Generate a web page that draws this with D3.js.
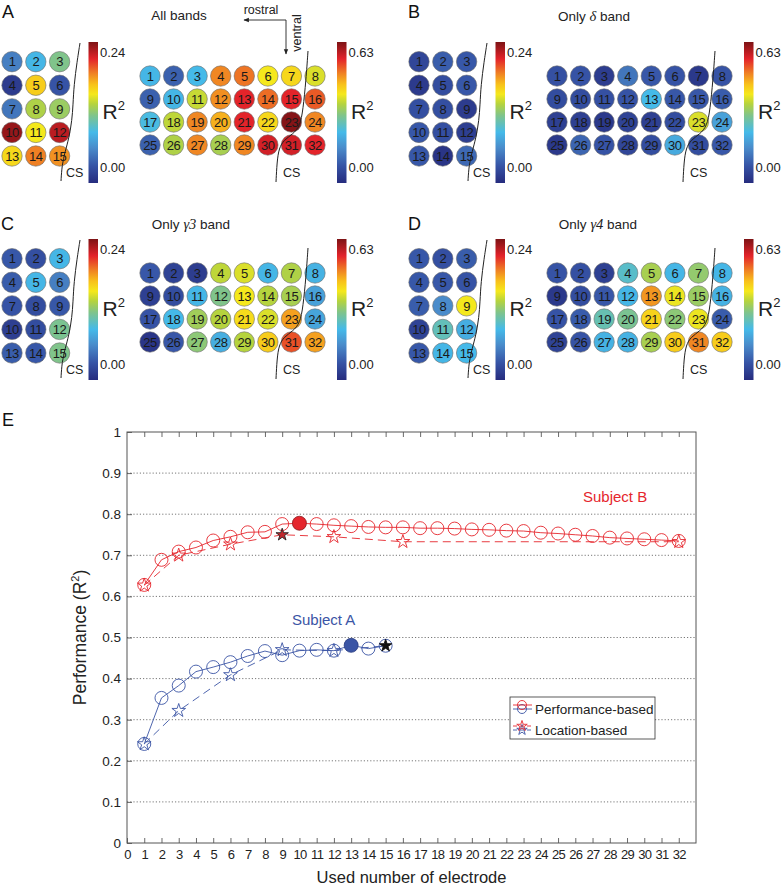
<!DOCTYPE html>
<html><head><meta charset="utf-8">
<script src="https://cdn.jsdelivr.net/npm/d3@7"></script>
<style>body{margin:0;background:#fff} svg{font-family:"Liberation Sans",Arial,sans-serif}</style>
</head><body><svg id="c" width="782" height="896"></svg>
<script>
// ---------------- DATA ----------------
const panelLetters = ["A","B","C","D"];
const titlePrefix = ["All bands","Only ","Only ","Only "];
const titleItalic = ["","δ","γ3","γ4"];
const titleSuffix = [""," band"," band"," band"];
const leftMax = 0.24, rightMax = 0.63;
const leftTickLabels = ["0.24","0.00"];
const rightTickLabels = ["0.63","0.00"];

// Subject A grid (15 electrodes) R^2 per panel
const leftAll   = [0.053,0.084,0.115,0.012,0.163,0.029,0.048,0.132,0.125,0.233,0.151,0.223,0.158,0.187,0.182];
const leftDelta = [0.019,0.034,0.031,0.010,0.024,0.031,0.026,0.026,0.012,0.031,0.026,0.014,0.031,0.007,0.041];
const leftG3    = [0.031,0.026,0.084,0.034,0.084,0.053,0.029,0.024,0.031,0.014,0.024,0.113,0.034,0.031,0.115];
const leftG4    = [0.031,0.026,0.034,0.031,0.031,0.029,0.034,0.060,0.151,0.017,0.101,0.079,0.031,0.084,0.086];
// Subject B grid (32 electrodes)
const rightAll   = [0.221,0.095,0.227,0.485,0.498,0.397,0.416,0.378, 0.095,0.221,0.365,0.479,0.554,0.504,0.554,0.517,
                    0.233,0.359,0.485,0.454,0.554,0.416,0.624,0.485, 0.095,0.347,0.485,0.340,0.485,0.567,0.567,0.554];
const rightDelta = [0.069,0.076,0.032,0.126,0.082,0.076,0.025,0.076, 0.063,0.063,0.069,0.076,0.227,0.082,0.082,0.088,
                    0.038,0.038,0.025,0.044,0.038,0.063,0.378,0.189, 0.025,0.101,0.076,0.050,0.063,0.202,0.063,0.082];
const rightG3    = [0.082,0.044,0.032,0.359,0.378,0.221,0.347,0.214, 0.038,0.063,0.221,0.302,0.397,0.353,0.340,0.189,
                    0.076,0.227,0.334,0.353,0.410,0.378,0.466,0.195, 0.019,0.082,0.315,0.208,0.353,0.428,0.523,0.466];
const rightG4    = [0.076,0.069,0.038,0.252,0.340,0.221,0.321,0.221, 0.025,0.063,0.082,0.221,0.473,0.391,0.328,0.214,
                    0.076,0.088,0.271,0.296,0.422,0.315,0.391,0.088, 0.044,0.076,0.214,0.214,0.340,0.428,0.485,0.428];

// Panel E
const xTickValues = d3.range(0,33);
const yTickValues = [0,0.1,0.2,0.3,0.4,0.5,0.6,0.7,0.8,0.9,1];
const bPerfX = d3.range(1,33);
const bPerfY = [0.628,0.689,0.709,0.719,0.736,0.745,0.756,0.757,0.776,0.778,0.776,0.773,0.771,0.769,0.768,0.768,
                0.766,0.766,0.765,0.763,0.762,0.760,0.759,0.755,0.753,0.750,0.747,0.743,0.741,0.739,0.737,0.735];
const bLocX = [1,3,6,9,12,16,32];
const bLocY = [0.627,0.700,0.727,0.750,0.745,0.733,0.733];
const aPerfX = d3.range(1,16);
const aPerfY = [0.241,0.353,0.383,0.417,0.428,0.440,0.455,0.467,0.457,0.468,0.470,0.468,0.481,0.473,0.480];
const aLocX = [1,3,6,9,12,15];
const aLocY = [0.241,0.322,0.409,0.470,0.468,0.480];
const bPerfBest = 10, bLocBest = 9, aPerfBest = 13, aLocBest = 15;
const legendLabels = ["Performance-based","Location-based"];
const subjectLabels = ["Subject A","Subject B"];

// ---------------- DRAW ----------------
const svg = d3.select("#c");
const RED = "#e5262d", BLUE = "#3b55a5";
const jetStops = ["#262c7e","#3653a5","#4a8ccb","#45bae9","#80c48a","#b5d33e","#f5e81c","#f8c11b","#ef7f24","#e3232a","#7d1315"];
const jetPos = [0,0.12,0.25,0.36,0.48,0.56,0.63,0.70,0.78,0.88,1];
const colorFor = max => d3.scaleLinear().domain(jetPos.map(p=>p*max)).range(jetStops).clamp(true);

const defs = svg.append("defs");
const grad = defs.append("linearGradient").attr("id","jet").attr("x1",0).attr("y1",1).attr("x2",0).attr("y2",0);
jetPos.forEach((p,i)=>grad.append("stop").attr("offset",p).attr("stop-color",jetStops[i]));

const panels = [
  {ox:0, oy:0, left:leftAll, right:rightAll, letter:[2,18], title:[179,20]},
  {ox:407, oy:0, left:leftDelta, right:rightDelta, letter:[408,18], title:[594,21]},
  {ox:0, oy:197, left:leftG3, right:rightG3, letter:[1,230], title:[191,229]},
  {ox:407, oy:197, left:leftG4, right:rightG4, letter:[408,230], title:[598,229]}
];

const leftCS = [[80,43],[77,62],[74,85],[73,105],[72,120],[69,138],[65,152],[62,165],[61,181]];
const rightCS = [[308,51],[306,80],[303,110],[300,126],[293,134],[284,140],[279,148],[277,162],[276,182]];
const csLine = d3.line().curve(d3.curveBasis);

panels.forEach((p,pi)=>{
  svg.append("text").attr("x",p.letter[0]).attr("y",p.letter[1]).attr("font-size",18).attr("fill","#111").text(panelLetters[pi]);
  const t = svg.append("text").attr("x",p.title[0]).attr("y",p.title[1]).attr("text-anchor","middle").attr("font-size",13.5).attr("fill","#222");
  t.append("tspan").text(titlePrefix[pi]);
  if (titleItalic[pi]) {
    t.append("tspan").attr("font-family","'Liberation Serif','Times New Roman',serif").attr("font-style","italic").attr("font-size",14.5).text(titleItalic[pi]);
    t.append("tspan").text(titleSuffix[pi]);
  }
  const g = svg.append("g").attr("transform",`translate(${p.ox},${p.oy})`);
  const lc = colorFor(leftMax), rc = colorFor(rightMax);
  const lx = d3.scaleLinear().domain([0,2]).range([12,59.6]);
  const ly = d3.scaleLinear().domain([0,4]).range([61.7,156]);
  const rx = d3.scaleLinear().domain([0,7]).range([150,315]);
  const ry = d3.scaleLinear().domain([0,3]).range([76,145]);
  const drawGrid = (vals, sx, sy, ncol, col) => {
    const e = g.append("g").selectAll("g").data(vals).join("g")
      .attr("transform",(d,i)=>`translate(${sx(i%ncol)},${sy(Math.floor(i/ncol))})`);
    e.append("circle").attr("r",10.2).attr("fill",d=>col(d)).attr("stroke","#6b6b6b").attr("stroke-width",0.6);
    e.append("text").attr("text-anchor","middle").attr("dy","0.36em").attr("font-size",13).attr("fill","#1a1a1a").attr("letter-spacing",-0.5).text((d,i)=>i+1);
  };
  drawGrid(p.left, lx, ly, 3, lc);
  drawGrid(p.right, rx, ry, 8, rc);
  g.append("path").attr("d",csLine(leftCS)).attr("fill","none").attr("stroke","#222").attr("stroke-width",1);
  g.append("path").attr("d",csLine(rightCS)).attr("fill","none").attr("stroke","#222").attr("stroke-width",1);
  g.append("text").attr("x",66).attr("y",177).attr("font-size",12.5).attr("fill","#222").text("CS");
  g.append("text").attr("x",283).attr("y",177).attr("font-size",12.5).attr("fill","#222").text("CS");
  [[88.5,leftTickLabels],[337,rightTickLabels]].forEach(([cx,labs])=>{
    g.append("rect").attr("x",cx).attr("y",42).attr("width",9.5).attr("height",141).attr("fill","url(#jet)");
    g.append("text").attr("x",cx+11.5).attr("y",57).attr("font-size",13).attr("fill","#222").text(labs[0]);
    g.append("text").attr("x",cx+11.5).attr("y",172).attr("font-size",13).attr("fill","#222").text(labs[1]);
    const r = g.append("text").attr("x",cx+14).attr("y",119).attr("font-size",21).attr("fill","#222");
    r.append("tspan").text("R");
    r.append("tspan").attr("font-size",13).attr("dy",-9).text("2");
  });
});

// rostral / ventral arrows (panel A)
defs.append("marker").attr("id","arr").attr("viewBox","0 0 10 10").attr("refX",9).attr("refY",5)
  .attr("markerWidth",6).attr("markerHeight",6).attr("orient","auto-start-reverse")
  .append("path").attr("d","M0,1 L10,5 L0,9 z").attr("fill","#222");
svg.append("path").attr("d","M286,20 L244,20").attr("stroke","#222").attr("stroke-width",0.9).attr("fill","none").attr("marker-end","url(#arr)");
svg.append("path").attr("d","M286,20 L286,54").attr("stroke","#222").attr("stroke-width",0.9).attr("fill","none").attr("marker-end","url(#arr)");
svg.append("text").attr("x",261).attr("y",14).attr("text-anchor","middle").attr("font-size",12.5).attr("fill","#222").text("rostral");
svg.append("text").attr("transform","translate(301,33) rotate(-90)").attr("text-anchor","middle").attr("font-size",12.5).attr("fill","#222").text("ventral");

// ---------------- PANEL E ----------------
svg.append("text").attr("x",2).attr("y",426).attr("font-size",18).attr("fill","#111").text("E");
const x = d3.scaleLinear().domain([0,33]).range([127,696]);
const y = d3.scaleLinear().domain([0,1]).range([843,432]);
const E = svg.append("g");
E.append("g").selectAll("line").data(yTickValues.filter(v=>v>0&&v<1)).join("line")
  .attr("x1",x(0)).attr("x2",x(33)).attr("y1",d=>y(d)).attr("y2",d=>y(d))
  .attr("stroke","#555").attr("stroke-width",0.8).attr("stroke-dasharray","1.2,2");
const ax = E.append("g").attr("transform",`translate(0,${y(0)})`)
  .call(d3.axisBottom(x).tickValues(xTickValues).tickSize(-5).tickPadding(7).tickFormat(d3.format("d")));
const axT = E.append("g").attr("transform",`translate(0,${y(1)})`)
  .call(d3.axisTop(x).tickValues(xTickValues.filter(v=>v>0)).tickSize(-5).tickFormat(""));
const ay = E.append("g").attr("transform",`translate(${x(0)},0)`)
  .call(d3.axisLeft(y).tickValues(yTickValues).tickSize(-5).tickPadding(6).tickFormat(d=>d===0?"0":d===1?"1":d.toFixed(1)));
[ax,axT,ay].forEach(a=>{a.select(".domain").remove(); a.selectAll("line").attr("stroke","#444").attr("stroke-width",0.8);});
ax.selectAll("text").attr("font-size",13).attr("letter-spacing",-0.7).attr("fill","#222");
ay.selectAll("text").attr("font-size",13.5).attr("fill","#222");
E.append("rect").attr("x",x(0)).attr("y",y(1)).attr("width",x(33)-x(0)).attr("height",y(0)-y(1))
  .attr("fill","none").attr("stroke","#555").attr("stroke-width",1);
E.append("text").attr("x",(x(0)+x(33))/2).attr("y",883).attr("text-anchor","middle").attr("font-size",16.5).attr("fill","#222").text("Used number of electrode");
const yl = E.append("text").attr("transform",`translate(86,${(y(0)+y(1))/2}) rotate(-90)`).attr("text-anchor","middle").attr("font-size",17.5).attr("fill","#222");
yl.append("tspan").text("Performance (R");
yl.append("tspan").attr("font-size",11).attr("dy",-7).text("2");
yl.append("tspan").attr("dy",7).text(")");

const line = d3.line().x(d=>x(d[0])).y(d=>y(d[1]));
const star = d3.symbol(d3.symbolStar, 58);
function series(xs, ys, color, dashed, marker, best, bestFill, bestStroke){
  const pts = xs.map((v,i)=>[v, ys[i]]);
  E.append("path").attr("d",line(pts)).attr("fill","none").attr("stroke",color).attr("stroke-width",0.9)
    .attr("stroke-dasharray",dashed?"8,5":null);
  const m = E.append("g").selectAll("g").data(pts).join("g").attr("transform",d=>`translate(${x(d[0])},${y(d[1])})`);
  m.each(function(d){
    const s = d3.select(this);
    const isBest = d[0]===best;
    if (marker==="circle") {
      s.append("circle").attr("r",isBest?7:6.5).attr("fill",isBest?bestFill:"none")
        .attr("stroke",isBest?bestStroke:color).attr("stroke-width",isBest?0.8:0.9);
    } else {
      s.append("path").attr("d",(isBest?d3.symbol(d3.symbolStar,48):star)()).attr("fill",isBest?bestFill:"none")
        .attr("stroke",isBest?bestStroke:color).attr("stroke-width",0.9);
    }
  });
}
series(bPerfX,bPerfY,RED,false,"circle",bPerfBest,"#e5262d","#8a1a1e");
series(bLocX,bLocY,RED,true,"star",bLocBest,"#c1272d","#222");
series(aPerfX,aPerfY,BLUE,false,"circle",aPerfBest,"#3b55a5","#2a3c80");
series(aLocX,aLocY,BLUE,true,"star",aLocBest,"#111","#111");

E.append("text").attr("x",583).attr("y",502).attr("font-size",15).attr("fill",RED).text(subjectLabels[1]);
E.append("text").attr("x",292).attr("y",625).attr("font-size",15).attr("fill",BLUE).text(subjectLabels[0]);

const L = E.append("g");
L.append("rect").attr("x",510).attr("y",697).attr("width",145).attr("height",42).attr("fill","#fff").attr("stroke","#333").attr("stroke-width",0.8);
const legRows = [{y:705, dash:null, mk:"circle"},{y:726, dash:"4,3", mk:"star"}];
legRows.forEach((r,i)=>{
  [[BLUE,4],[RED,0]].forEach(([c,off])=>{
    L.append("line").attr("x1",513).attr("x2",532).attr("y1",r.y+off).attr("y2",r.y+off).attr("stroke",c).attr("stroke-width",0.9).attr("stroke-dasharray",r.dash);
    if (r.mk==="circle") L.append("circle").attr("cx",522).attr("cy",r.y+off).attr("r",4.5).attr("fill","none").attr("stroke",c).attr("stroke-width",0.9);
    else L.append("path").attr("transform",`translate(522,${r.y+off})`).attr("d",d3.symbol(d3.symbolStar,34)()).attr("fill","none").attr("stroke",c).attr("stroke-width",0.9);
  });
  L.append("text").attr("x",535).attr("y",r.y+9).attr("font-size",13.5).attr("fill","#222").text(legendLabels[i]);
});
</script></body></html>
